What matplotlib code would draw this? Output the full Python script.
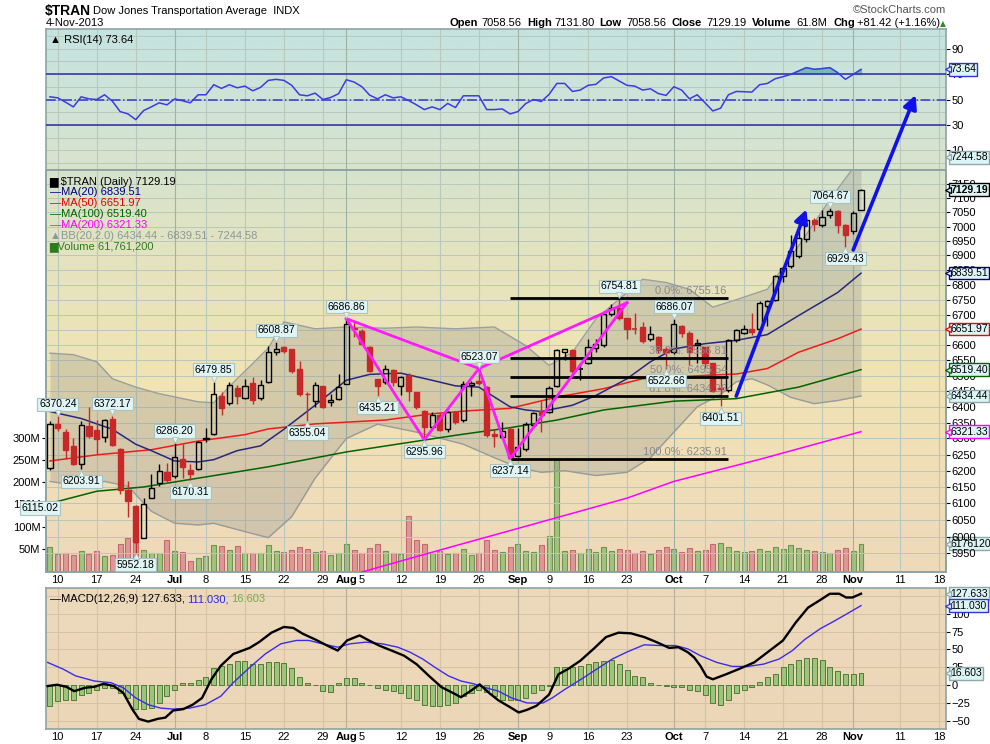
import numpy as np
import matplotlib.pyplot as plt
from matplotlib.colors import to_rgb
from matplotlib import font_manager

# ---- values: trading days 7-Jun-2013 .. 4-Nov-2013 (index 0..104) ----
opens = [6209, 6345, 6320, 6276, 6222, 6338, 6328, 6304, 6362, 6267, 6142, 6093, 5997, 6117, 6163, 6197, 6183, 6236, 6201, 6206,
         6298, 6314, 6434, 6412, 6459, 6427, 6476, 6427, 6478, 6578, 6593, 6585, 6522, 6442, 6420, 6466, 6415, 6425, 6473, 6657,
         6646, 6592, 6488, 6478, 6517, 6465, 6501, 6446, 6388, 6336, 6373, 6330, 6383, 6357, 6470, 6483, 6462, 6315, 6304, 6331,
         6244, 6267, 6341, 6388, 6385, 6467, 6578, 6583, 6522, 6542, 6589, 6600, 6702, 6722, 6688, 6652, 6660, 6618, 6627, 6585,
         6578, 6662, 6640, 6600, 6592, 6540, 6460, 6455, 6616, 6640, 6654, 6651, 6729, 6750, 6831, 6863, 6897, 6957, 7024, 7006,
         7041, 7055, 7006, 6983, 7058.56]
highs = [6356, 6370.24, 6330, 6301, 6354, 6399, 6357, 6362, 6372.17, 6269, 6168, 6095, 6115, 6190, 6221, 6225, 6286.20, 6283, 6220, 6292,
         6333, 6479.85, 6446, 6478, 6469, 6488, 6494, 6487, 6595, 6608.87, 6598, 6588, 6546, 6447, 6478, 6468, 6441, 6506, 6686.86, 6674,
         6651, 6597, 6489, 6536, 6522, 6499, 6510, 6448, 6390, 6383, 6380, 6388, 6388, 6483, 6483, 6523.07, 6467, 6331, 6352, 6336,
         6333, 6352, 6383, 6420, 6467, 6585, 6588, 6586, 6541, 6620, 6620, 6713, 6735, 6754.81, 6689, 6704, 6675, 6662, 6630, 6594,
         6686.07, 6664, 6645, 6618, 6593, 6542, 6492, 6620, 6654, 6665, 6706, 6745, 6750, 6835, 6862, 6971, 7006, 7026, 7029, 7059,
         7064.67, 7059, 7010, 7055, 7131.80]
lows = [6203, 6322, 6236, 6218, 6203.91, 6300, 6252, 6288, 6277, 6130, 6058, 5952.18, 5995, 6115, 6153, 6166, 6177, 6179, 6170.31, 6202,
        6288, 6310, 6375, 6407, 6410, 6425, 6410, 6422, 6475, 6566, 6575, 6508, 6436, 6355.04, 6399, 6397, 6404, 6422, 6472, 6625,
        6599, 6512, 6435.21, 6472, 6465, 6438, 6420, 6394, 6295.96, 6330, 6322, 6320, 6346, 6352, 6434, 6470, 6304, 6273, 6297, 6237.14,
        6241, 6262, 6332, 6320, 6380, 6462, 6552, 6510, 6486, 6537, 6578, 6594, 6697, 6683, 6620, 6637, 6607, 6612, 6573, 6522.66,
        6570, 6625, 6535, 6540, 6525, 6446, 6401.51, 6446, 6610, 6636, 6634, 6648, 6662, 6745, 6811, 6857, 6890, 6945, 6983, 7000,
        7030, 6977, 6929.43, 6975, 7058.56]
closes = [6346, 6332, 6265, 6222, 6341, 6309, 6299, 6357, 6281, 6140, 6107, 5985, 6099, 6146, 6199, 6171, 6241, 6211, 6191, 6290,
          6301, 6440, 6396, 6469, 6436, 6467, 6423, 6470, 6578, 6587, 6579, 6515, 6441, 6440, 6470, 6399, 6423, 6462, 6670, 6652,
          6604, 6515, 6467, 6520, 6478, 6494, 6452, 6399, 6336, 6375, 6328, 6385, 6352, 6473, 6477, 6476, 6310, 6307, 6325, 6240,
          6273, 6346, 6381, 6373, 6459, 6583, 6585, 6515, 6522, 6594, 6604, 6702, 6722, 6688, 6652, 6651, 6612, 6636, 6583, 6577,
          6670, 6640, 6578, 6605, 6540, 6450, 6458, 6615, 6648, 6654, 6644, 6740, 6745, 6831, 6857, 6914, 6960, 7024, 7010, 7035,
          7053, 7006, 6971, 7049, 7129.19]
volume_m = [55, 39, 40, 36, 44, 39, 44, 33, 36, 61, 75, 63, 48, 40, 40, 70, 46, 42, 23, 30,
            33, 59, 57, 48, 57, 40, 40, 40, 58, 45, 42, 48, 55, 50, 42, 45, 35, 40, 60, 48,
            40, 52, 60, 45, 40, 38, 125, 70, 60, 40, 45, 38, 40, 50, 35, 40, 70, 48, 42, 55,
            60, 45, 42, 58, 80, 250, 45, 48, 40, 50, 42, 55, 45, 50, 48, 40, 45, 38, 48, 55,
            50, 42, 52, 45, 48, 60, 62, 55, 45, 42, 45, 50, 45, 55, 50, 58, 52, 48, 45, 42,
            40, 48, 52, 45, 61.76]

ma20_days = [0, 4, 8, 11, 13, 16, 19, 21, 24, 27, 30, 34, 38, 41, 45, 49, 52, 55, 57, 59, 61, 63, 65, 67, 70, 74, 77, 80, 84, 88, 92, 96, 101, 104]
ma20_vals = [6385, 6363, 6329, 6282, 6262, 6230, 6227, 6234, 6262, 6277, 6329, 6405, 6485, 6504, 6508, 6485, 6467, 6463, 6431, 6400,
             6390, 6385, 6395, 6405, 6436, 6490, 6545, 6587, 6604, 6615, 6634, 6697, 6774, 6839.51]
ma50_days = [0, 6, 13, 19, 25, 28, 34, 43, 49, 54, 59, 65, 71, 76, 85, 88, 92, 96, 101, 104]
ma50_vals = [6230, 6249, 6265, 6292, 6312, 6330, 6346, 6358, 6378, 6388, 6395, 6431, 6458, 6490, 6502, 6505, 6523, 6576, 6620, 6651.97]
ma100_days = [0, 6, 12, 19, 28, 38, 52, 59, 65, 71, 80, 88, 96, 104]
ma100_vals = [6100, 6137, 6150, 6177, 6212, 6258, 6310, 6334, 6358, 6390, 6418, 6426, 6463, 6519.40]
ma200_days = [38, 43, 52, 61, 74, 80, 91, 104]
ma200_vals = [5882, 5915, 5973, 6031, 6116, 6167, 6235, 6321.33]
bb_up_days = [0, 3, 6, 8, 11, 14, 19, 21, 24, 26, 28, 30, 34, 38, 43, 47, 52, 57, 61, 64, 67, 70, 73, 76, 79, 82, 85, 88, 92, 96, 100, 104]
bb_up_vals = [6573, 6568, 6545, 6490, 6463, 6442, 6416, 6413, 6490, 6539, 6590, 6676, 6653, 6659, 6655, 6659, 6653, 6659, 6598, 6533,
              6576, 6686, 6752, 6819, 6808, 6785, 6725, 6750, 6785, 6933, 7094, 7244.58]
bb_lo_days = [0, 3, 7, 10, 13, 16, 19, 21, 25, 28, 31, 34, 38, 42, 47, 53, 57, 60, 63, 66, 70, 74, 77, 80, 83, 86, 88, 90, 92, 95, 98, 101, 104]
bb_lo_vals = [6167, 6156, 6167, 6152, 6076, 6040, 6035, 6040, 6015, 5997, 6060, 6177, 6300, 6345, 6320, 6282, 6240, 6210, 6195, 6200,
              6185, 6195, 6240, 6320, 6400, 6440, 6480, 6490, 6470, 6430, 6410, 6420, 6434.44]

rsi = [52.1, 51.3, 47.9, 44.2, 52.1, 50.5, 50.0, 53.7, 48.7, 40.5, 38.7, 34.2, 41.3, 44.2, 47.4, 45.8, 50.5, 49.0, 47.4, 53.7,
       53.7, 61.6, 58.7, 61.6, 59.2, 60.5, 56.8, 59.5, 65.0, 65.8, 65.0, 61.1, 53.7, 52.9, 55.0, 50.0, 51.6, 54.5, 65.5, 63.7,
       60.0, 53.4, 50.5, 53.7, 51.3, 52.1, 49.2, 45.8, 42.1, 44.2, 42.1, 46.9, 43.7, 52.9, 52.9, 52.9, 42.1, 42.1, 42.6, 38.7,
       40.5, 46.8, 50.0, 48.4, 54.0, 62.6, 62.6, 56.3, 57.4, 61.1, 61.9, 66.9, 67.9, 64.5, 61.1, 60.5, 57.4, 58.4, 54.7, 53.2,
       60.0, 57.4, 50.5, 53.7, 47.4, 41.0, 43.2, 53.7, 56.3, 56.1, 55.8, 61.6, 62.6, 66.3, 67.9, 69.7, 72.4, 75.0, 73.7, 74.2,
       75.0, 71.1, 65.8, 69.7, 73.64]

macd_days = [-0.3, 0.9, 2.1, 3.1, 4.5, 5.7, 6.9, 8.2, 9.4, 10.6, 11.4, 12.6, 13.8, 14.8, 15.8, 17.1, 18.3, 19.5, 20.7, 21.9,
             23.5, 25.6, 26.8, 28.4, 30.0, 31.2, 32.4, 34.1, 35.7, 36.9, 38.1, 39.7, 40.9, 42.2, 43.8, 45.4, 47.0, 48.6, 50.2, 51.9,
             52.7, 53.9, 55.1, 56.3, 57.5, 59.2, 60.1, 61.2, 62.4, 64.0, 65.2, 66.4, 68.0, 69.7, 71.3, 72.9, 74.5, 76.2, 77.8, 79.4,
             80.6, 81.8, 82.6, 83.4, 84.2, 85.0, 86.7, 88.3, 90.3, 92.3, 94.0, 95.6, 97.2, 98.8, 100.0, 101.2, 102.1, 102.9, 104.0]
macd_vals = [-0.9, 0.9, -1.9, -8.0, -3.3, -1.9, 2.3, -1.0, -10.4, -33.9, -46.6, -50.4, -46.6, -44.8, -34.9, -33.0, -26.9, -17.5, 8.5, 27.3,
             43.7, 52.2, 60.2, 73.4, 81.4, 80.0, 72.0, 63.5, 54.6, 48.5, 62.6, 69.6, 62.6, 55.5, 48.5, 41.4, 29.6, 13.2, -2.4, -11.8,
             -16.5, -8.0, 1.4, -10.4, -20.8, -31.6, -37.7, -33.9, -28.3, -12.7, 15.5, 22.6, 34.3, 50.8, 67.3, 73.4, 72.5, 67.3, 60.2, 52.2,
             53.2, 46.1, 39.0, 27.3, 12.2, 8.5, 15.5, 22.6, 32.0, 48.5, 62.6, 87.1, 108.2, 119.1, 127.6, 127.6, 122.4, 122.4, 127.633]
signal_days = [-0.3, 1.7, 3.3, 5.7, 7.8, 9.4, 11.0, 12.6, 14.2, 15.8, 17.9, 19.9, 21.9, 23.5, 25.6, 27.6, 29.6, 31.6, 33.2, 34.9,
               36.9, 38.5, 40.5, 42.6, 44.6, 46.2, 47.8, 49.4, 51.1, 52.7, 54.3, 55.9, 57.5, 59.2, 61.2, 63.2, 64.4, 66.0, 68.1, 70.1,
               72.1, 74.1, 76.2, 78.2, 80.2, 81.8, 83.4, 85.5, 87.5, 89.5, 91.5, 93.5, 95.2, 96.8, 98.8, 100.4, 102.0, 104.0]
signal_vals = [32.0, 22.6, 13.2, 6.1, 3.8, -3.3, -17.5, -26.9, -31.6, -33.0, -31.6, -26.9, -15.1, 3.8, 24.9, 43.7, 57.9, 62.6, 62.6, 57.9,
               53.2, 57.9, 60.2, 57.9, 53.2, 46.1, 36.7, 24.9, 13.2, 6.1, 2.3, -3.3, -8.0, -17.5, -24.5, -24.5, -17.5, -5.7, 8.5, 22.6,
               36.7, 47.0, 56.5, 55.5, 55.5, 50.8, 41.4, 32.0, 26.4, 26.4, 29.6, 36.7, 48.5, 64.0, 79.1, 88.5, 98.4, 111.03]
hist = [-29, -22, -21, -21, -13, -11, -6, -3, -3, -10, -17, -33, -33, -31, -24, -15, -6, 3, 4, 8,
        12, 24, 27, 30, 34, 34, 30, 30, 32, 32, 31, 24, 12, 4, 0, -8, -9, 4, 10, 10,
        4, 0, -4, -7, -8, -11, -17, -21, -27, -29, -29, -27, -24, -15, -11, -6, -9, -15, -20, -21,
        -21, -18, -11, -7, -1, 26, 26, 26, 27, 30, 32, 34, 36, 30, 22, 13, 11, 4, 1, -1,
        -2, -2, -6, -8, -13, -24, -27, -21, -11, -6, -2, 5, 11, 16, 25, 30, 36, 38, 38, 36,
        26, 20, 16, 16, 16.603]

tick_days = [1, 6, 11, 16, 20, 25, 30, 35, 38, 40, 45, 50, 55, 60, 64, 69, 74, 80, 84, 89, 94, 99, 103, 109, 114]
tick_labels = ['10', '17', '24', 'Jul', '8', '15', '22', '29', 'Aug', '5', '12', '19', '26', 'Sep', '9', '16', '23',
               'Oct', '7', '14', '21', '28', 'Nov', '11', '18']
month_labels = ['Jul', 'Aug', 'Sep', 'Oct', 'Nov']

# price callouts: (day, price, above?)
callouts = [(1, 6370.24, True), (4, 6203.91, False), (8, 6372.17, True), (11, 5952.18, False), (16, 6286.20, True),
            (18, 6170.31, False), (21, 6479.85, True), (29, 6608.87, True), (33, 6355.04, False), (38, 6686.86, True),
            (42, 6435.21, False), (48, 6295.96, False), (55, 6523.07, True), (59, 6237.14, False), (73, 6754.81, True),
            (80, 6686.07, True), (79, 6522.66, False), (86, 6401.51, False), (100, 7064.67, True), (102, 6929.43, False)]

fib_names = ['0.0%', '38.2%', '50.0%', '61.8%', '100.0%']
fib_levels = [6755.16, 6556.81, 6495.54, 6434.26, 6235.91]
pattern_days = [38, 48, 55, 59, 74]
pattern_prices = [6686.86, 6295.96, 6523.07, 6237.14, 6740]

days = np.arange(len(closes))
o = np.array(opens); h = np.array(highs); l = np.array(lows); c = np.array(closes)

plt.rcParams['font.family'] = ['Liberation Sans', 'DejaVu Sans']
installed = {f.name for f in font_manager.fontManager.ttflist}
narrow = 'Liberation Sans Narrow' if 'Liberation Sans Narrow' in installed else None

fig = plt.figure(figsize=(9.9, 7.44), dpi=100)
L, W = 46 / 990, 900 / 990
XLIM = (-0.51, 114.9)
frame = '#8ea3a3'
grid_c = '#b9c8bc'


def gradient(ax, colors):
    n = 100
    rgb = [np.array(to_rgb(col)) for col in colors]
    pos = np.linspace(0, 1, len(rgb))
    t = np.linspace(0, 1, n)
    img = np.zeros((n, 1, 3))
    for k in range(3):
        img[:, 0, k] = np.interp(t, pos, [col[k] for col in rgb])
    ax.imshow(img, extent=(0, 1, 0, 1), transform=ax.transAxes, aspect='auto', zorder=0, interpolation='bilinear')


def style(ax):
    for s in ax.spines.values():
        s.set_color(frame)
        s.set_linewidth(1.2)


def vgrid(ax, light, dark):
    for d, lab in zip(tick_days, tick_labels):
        if lab == '5':
            continue
        ax.axvline(d, color=dark if lab in month_labels else light, lw=0.8, zorder=1)


def tag(ax, y, text, ec, bold=False, fc='#dcf4f4'):
    tr = ax.get_yaxis_transform()
    ax.text(1.0045, y, text, transform=tr, ha='left', va='center', fontsize=7.5,
            fontweight='bold' if bold else 'normal', clip_on=False, zorder=20,
            bbox=dict(boxstyle='square,pad=0.12', fc=fc, ec=ec, lw=1))
    ax.plot(1.0022, y, marker='<', ms=5, color=fc, mec=ec, mew=0.9, transform=tr, clip_on=False, zorder=21)


def date_ticks(ax):
    ax.set_xticks(tick_days)
    ax.set_xticklabels(tick_labels)
    ax.tick_params(axis='x', length=0, labelsize=8, pad=2)
    for t in ax.get_xticklabels():
        if t.get_text() in month_labels:
            t.set_fontweight('bold')


# ---------------- RSI ----------------
rax = fig.add_axes([L, 1 - 170 / 744, W, 141 / 744])
gradient(rax, ['#c4e3e0', '#cfe3d8', '#d9e4cc'])
for v in range(0, 101, 10):
    rax.axhline(v, color=grid_c, lw=0.7, zorder=1)
vgrid(rax, grid_c, '#9fb3a5')
rax.axhline(70, color='#2b2bb0', lw=1.1, zorder=3)
rax.axhline(30, color='#2b2bb0', lw=1.1, zorder=3)
rax.axhline(50, color='#3535d0', lw=1.1, ls='-.', zorder=3)
rsi_a = np.array(rsi)
rax.fill_between(days, 70, rsi_a, where=rsi_a > 70, interpolate=True, color='#5fb0b0', alpha=0.8, zorder=2)
rax.plot(days, rsi_a, color='#3b3be0', lw=1.1, zorder=4)
rax.set_ylim(-5.3, 105.3)
rax.set_xlim(*XLIM)
rax.set_xticks([])
rax.yaxis.tick_right()
rax.set_yticks([10, 30, 50, 70, 90])
rax.tick_params(axis='y', length=3, labelsize=8, colors='black', pad=1)
style(rax)
rax.text(0.004, 0.955, '\u25b2 RSI(14) 73.64', transform=rax.transAxes, fontsize=8, va='top', ha='left')
tag(rax, 73.64, '73.64', '#3333dd')

# ---------------- price + volume ----------------
pbot, ph = 1 - 572 / 744, 402 / 744
vax = fig.add_axes([L, pbot, W, ph])
gradient(vax, ['#d6e3cc', '#e6e3bd', '#f0e4b4', '#f0deb8', '#eed9ba'])
vol = np.array(volume_m)
up = np.r_[True, c[1:] >= c[:-1]]
vax.bar(days[up], vol[up], width=0.64, color='#a3c27e', edgecolor='#6e9352', lw=0.8, zorder=2)
vax.bar(days[~up], vol[~up], width=0.64, color='#dc9898', edgecolor='#c56a6a', lw=0.8, zorder=2)
vax.set_ylim(-2.3, 904.5)
vax.set_xlim(*XLIM)
vax.set_yticks([50, 100, 150, 200, 250, 300])
vax.set_yticklabels(['50M', '100M', '150M', '200M', '250M', '300M'])
vax.yaxis.tick_left()
vax.tick_params(axis='y', length=3, labelsize=8, pad=1)
vax.tick_params(axis='x', bottom=False, labelbottom=False)
style(vax)
tag(vax, 61.76, '6176120', '#8fa8a8')

ax = fig.add_axes([L, pbot, W, ph])
ax.patch.set_visible(False)
ax.set_yscale('log')
ax.set_ylim(5895.5, 7199.5)
price_ticks = list(range(5950, 7151, 50))
for p in price_ticks:
    ax.axhline(p, color=grid_c, lw=0.7, zorder=1)
vgrid(ax, grid_c, '#9fb3a5')

# Bollinger band
ax.plot(bb_up_days, bb_up_vals, color='#9aa0a0', lw=1, zorder=2)
ax.plot(bb_lo_days, bb_lo_vals, color='#9aa0a0', lw=1, zorder=2)
xs = np.union1d(bb_up_days, bb_lo_days)
ax.fill_between(xs, np.interp(xs, bb_lo_days, bb_lo_vals), np.interp(xs, bb_up_days, bb_up_vals),
                color='#8c8c8c', alpha=0.28, lw=0, zorder=2)

ax.plot(ma200_days, ma200_vals, color='#ff00ff', lw=1.1, zorder=3)
ax.plot(ma100_days, ma100_vals, color='#006400', lw=1.1, zorder=3)
ax.plot(ma50_days, ma50_vals, color='#ee1c1c', lw=1.1, zorder=3)
ax.plot(ma20_days, ma20_vals, color='#28287a', lw=1.1, zorder=3)

# candles
rising = c >= o
for i in days:
    col = 'black' if rising[i] else '#c82828'
    top, bot = max(o[i], c[i]), min(o[i], c[i])
    ax.vlines(i, top, h[i], color=col, lw=1, zorder=5)
    ax.vlines(i, l[i], bot, color=col, lw=1, zorder=5)
    if top - bot < 1.5:
        ax.hlines(c[i], i - 0.34, i + 0.34, color=col, lw=1.2, zorder=5)
    else:
        ax.bar(i, top - bot, bottom=bot, width=0.66, color='none' if rising[i] else col,
               edgecolor=col, lw=1, zorder=5)

# fibonacci retracement
ax.hlines(fib_levels, 59, 86.9, color='black', lw=2, zorder=6)
for name, lev in zip(fib_names, fib_levels):
    ax.text(86.8, lev * 1.0012, f'{name}: {lev:.2f}', ha='right', va='bottom', fontsize=8, color='#8a8a8a', zorder=6)

# harmonic pattern
ax.plot(pattern_days, pattern_prices, color='#ff1aff', lw=2, zorder=7)
ax.plot([pattern_days[0], pattern_days[2], pattern_days[4]],
        [pattern_prices[0], pattern_prices[2], pattern_prices[4]], color='#ff1aff', lw=2, zorder=7)

# trend arrows
arrow = dict(arrowstyle='-|>', color='#1010e8', lw=2.6, mutation_scale=20, shrinkA=0, shrinkB=0)
ax.annotate('', xy=(97.0, 7060), xytext=(88.0, 6434), arrowprops=arrow, zorder=8)
ax.annotate('', xy=(111.0, 7473), xytext=(103.0, 6919), arrowprops=arrow, zorder=8, annotation_clip=False)

# callouts
box = dict(boxstyle='square,pad=0.15', fc='#e0f4f4', ec='#a9c2c2', lw=0.8)
for d, p, above in callouts:
    ax.annotate(f'{p:.2f}', xy=(d, p), xytext=(0, 5 if above else -5), textcoords='offset points',
                ha='center', va='bottom' if above else 'top', fontsize=7.5, zorder=9, bbox=box)
    ax.plot(d, p * (1.0016 if above else 0.9984), marker='v' if above else '^', ms=4, color='#e0f4f4',
            mec='#a9c2c2', mew=0.6, zorder=9)
ax.annotate('6115.02', xy=(-1.25, 6086), ha='center', va='center', fontsize=7.5, zorder=9, annotation_clip=False,
            bbox=box)

ax.yaxis.tick_right()
ax.yaxis.set_minor_locator(plt.NullLocator())
ax.yaxis.set_minor_formatter(plt.NullFormatter())
ax.set_yticks(price_ticks)
ax.set_yticklabels([str(p) for p in price_ticks])
ax.tick_params(axis='y', which='both', length=3, labelsize=8, pad=1)
ax.set_xlim(*XLIM)
date_ticks(ax)
style(ax)

legend_rows = [('\u2587 $TRAN (Daily) 7129.19', 'black'), ('\u2014MA(20) 6839.51', '#000080'),
               ('\u2014MA(50) 6651.97', '#ee0000'), ('\u2014MA(100) 6519.40', '#006400'),
               ('\u2014MA(200) 6321.33', '#ff00ff'), ('\u25b2BB(20,2.0) 6434.44 - 6839.51 - 7244.58', '#8a9898'),
               ('\u2587Volume 61,761,200', '#2f7a1f')]
for k, (txt, col) in enumerate(legend_rows):
    ax.text(0.004, 0.985 - k * 0.0272, txt, transform=ax.transAxes, fontsize=8, color=col, va='top', ha='left', zorder=10)

tag(ax, 7244.58, '7244.58', '#8fa8a8')
tag(ax, 7129.19, '7129.19', 'black', bold=True)
tag(ax, 6839.51, '6839.51', '#000080')
tag(ax, 6651.97, '6651.97', '#ee0000')
tag(ax, 6519.40, '6519.40', '#006400')
tag(ax, 6434.44, '6434.44', '#8fa8a8')
tag(ax, 6321.33, '6321.33', '#ff00ff')

# ---------------- MACD ----------------
mac = fig.add_axes([L, 1 - 729 / 744, W, 141 / 744])
gradient(mac, ['#ecd9bc', '#ecd6b8'])
for v in range(-50, 126, 25):
    mac.axhline(v, color='#d8c2a4', lw=0.7, zorder=1)
vgrid(mac, '#d8c2a4', '#bcae96')
mac.bar(days, hist, width=0.64, color='#9cc47a', edgecolor='#4f7d35', lw=0.7, zorder=2)
mac.plot(signal_days, signal_vals, color='#3a2de6', lw=1, zorder=3)
mac.plot(macd_days, macd_vals, color='black', lw=1.7, zorder=4)
mac.set_ylim(-60.7, 135.6)
mac.set_xlim(*XLIM)
mac.yaxis.tick_right()
mac.set_yticks([-50, -25, 0, 25, 50, 75, 100])
mac.tick_params(axis='y', length=3, labelsize=8, pad=1)
date_ticks(mac)
style(mac)
mx, my = 0.004, 0.955
t1 = mac.text(mx, my, '\u2014MACD(12,26,9) 127.633,', transform=mac.transAxes, fontsize=8, va='top', ha='left')
fig.canvas.draw()
bb = t1.get_window_extent().transformed(mac.transAxes.inverted())
t2 = mac.text(bb.x1 + 0.003, my, '111.030,', transform=mac.transAxes, fontsize=8, va='top', ha='left', color='#2a2ae0')
fig.canvas.draw()
bb2 = t2.get_window_extent().transformed(mac.transAxes.inverted())
mac.text(bb2.x1 + 0.003, my, '16.603', transform=mac.transAxes, fontsize=8, va='top', ha='left', color='#6fb04f')
tag(mac, 127.633, '127.633', '#8fa8a8')
tag(mac, 111.03, '111.030', '#3333dd')
tag(mac, 16.603, '16.603', '#8fa8a8')

# ---------------- header ----------------
if narrow:
    fig.text(46 / 990, 1 - 11 / 744, '$TRAN', fontsize=12.5, fontweight='bold', va='center', ha='left', family=narrow)
else:
    fig.text(45 / 990, 1 - 11 / 744, '$TRAN', fontsize=10, fontweight='bold', va='center', ha='left')
fig.text(93 / 990, 1 - 10.5 / 744, 'Dow Jones Transportation Average  INDX', fontsize=8, va='center', ha='left')
fig.text(46 / 990, 1 - 23.5 / 744, '4-Nov-2013', fontsize=8, va='center', ha='left')
fig.text(946 / 990, 1 - 10 / 744, '\u00a9StockCharts.com', fontsize=8, color='#555555', va='center', ha='right')
hdr = [(450, 'Open', True), (481, '7058.56', False), (527, 'High', True), (554, '7131.80', False),
       (599, 'Low', True), (626, '7058.56', False), (671, 'Close', True), (706, '7129.19', False),
       (752, 'Volume', True), (796, '61.8M', False), (833, 'Chg', True), (857, '+81.42 (+1.16%)', False)]
for x, txt, b in hdr:
    fig.text(x / 990, 1 - 23.5 / 744, txt, fontsize=8, fontweight='bold' if b else 'normal', va='center', ha='left')
fig.text(943 / 990, 1 - 23.5 / 744, '\u25b2', fontsize=5.5, color='#2e8b2e', va='center', ha='center',
         family=['DejaVu Sans'])

plt.savefig('out.png', dpi=100)
